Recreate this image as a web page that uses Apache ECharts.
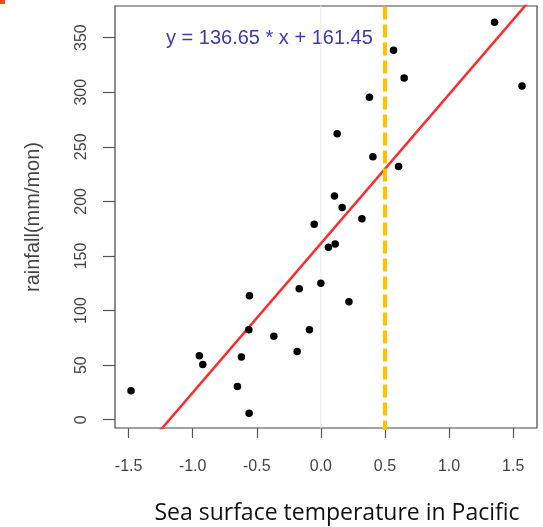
<!DOCTYPE html>
<html><head><meta charset="utf-8">
<script src="https://cdn.jsdelivr.net/npm/echarts@6/dist/echarts.min.js"></script>
<style>html,body{margin:0;padding:0;background:#fff}#c{width:543px;height:527px}</style>
</head><body><div id="c"></div>
<script>
// Sea surface temperature (x) vs rainfall (y)
const sstValues = [1.355, 0.567, 0.650, 1.569, 0.379, 0.127, 0.406, 0.606, 0.106, 0.166, 0.320, -0.052,
  0.059, 0.112, 0.000, -0.169, 0.219, -0.557, -0.562, -0.089, -0.367, -0.185, -0.948, -0.921, -0.620, -0.651, -0.560, -1.481];
const rainValues = [364, 338.5, 313, 305.6, 295.5, 262, 241, 232, 205, 194.5, 184, 179,
  158, 161, 125, 120, 108, 113.5, 82.5, 82.5, 76.5, 62.5, 58.5, 50.5, 57.5, 30.5, 6, 26.5];
const xTicks = [-1.5, -1.0, -0.5, 0.0, 0.5, 1.0, 1.5];
const yTicks = [0, 50, 100, 150, 200, 250, 300, 350];
const slope = 136.65, intercept = 161.45;
const threshold = 0.5;
const xMin = -1.606, xMax = 1.686, yMin = -7.6, yMax = 379;

const points = sstValues.map((x, i) => [x, rainValues[i]]);
const fitLine = [[xMin - 0.2, slope * (xMin - 0.2) + intercept], [xMax + 0.2, slope * (xMax + 0.2) + intercept]];

const chart = echarts.init(document.getElementById('c'));
chart.setOption({
  animation: false,
  grid: { left: 115, right: 6, top: 6, bottom: 99, show: true, borderColor: '#444', borderWidth: 1.2, backgroundColor: 'transparent', containLabel: false, outerBoundsMode: 'none' },
  xAxis: {
    type: 'value', min: xMin, max: xMax,
    axisLine: { show: false, onZero: false },
    splitLine: { show: false },
    axisTick: { show: true, inside: false, length: 10, customValues: xTicks, lineStyle: { color: '#555', width: 1.2 } },
    axisLabel: { customValues: xTicks, formatter: v => v.toFixed(1), color: '#444', fontSize: 16, margin: 31, fontFamily: 'Liberation Sans' },
    name: 'Sea surface temperature in Pacific', nameLocation: 'middle', nameGap: 74,
    nameTextStyle: { color: '#111', fontSize: 23, fontFamily: 'Open Sans', padding: [0, 0, 0, 22] }
  },
  yAxis: {
    type: 'value', min: yMin, max: yMax,
    axisLine: { show: false, onZero: false },
    splitLine: { show: false },
    axisTick: { show: true, inside: false, length: 12, customValues: yTicks, lineStyle: { color: '#555', width: 1.2 } },
    axisLabel: { customValues: yTicks, rotate: 90, color: '#444', fontSize: 16, margin: 33, fontFamily: 'Liberation Sans', verticalAlign: 'middle', align: 'center' },
    name: 'rainfall(mm/mon)', nameLocation: 'middle', nameGap: 72, nameRotate: 90,
    nameTextStyle: { color: '#444', fontSize: 20, fontFamily: 'Liberation Sans' }
  },
  series: [
    {
      type: 'line', data: [[0, yMin - 50], [0, yMax + 50]], symbol: 'none', silent: true,
      lineStyle: { color: '#e6e6e6', width: 1 }, z: 1
    },
    {
      type: 'line', data: fitLine, symbol: 'none', silent: true,
      lineStyle: { color: '#ff2a2a', width: 2.5 }, z: 3
    },
    {
      type: 'line', data: [[threshold, yMin - 5], [threshold, yMax + 50]], symbol: 'none', silent: true,
      lineStyle: { color: '#ffc000', width: 4, type: [13, 5] }, z: 4
    },
    {
      type: 'scatter', data: points, symbol: 'circle', symbolSize: 7.5,
      itemStyle: { color: '#000', opacity: 1 }, z: 5
    }
  ],
  graphic: [
    { type: 'text', left: 166, top: 28, style: { text: 'y = 136.65 * x + 161.45', fill: '#3b3bb0', fontSize: 20, fontFamily: 'Liberation Sans' } },
    { type: 'rect', shape: { x: 0, y: 0, width: 5, height: 4 }, style: { fill: '#e8501c' } }
  ]
});
</script></body></html>
